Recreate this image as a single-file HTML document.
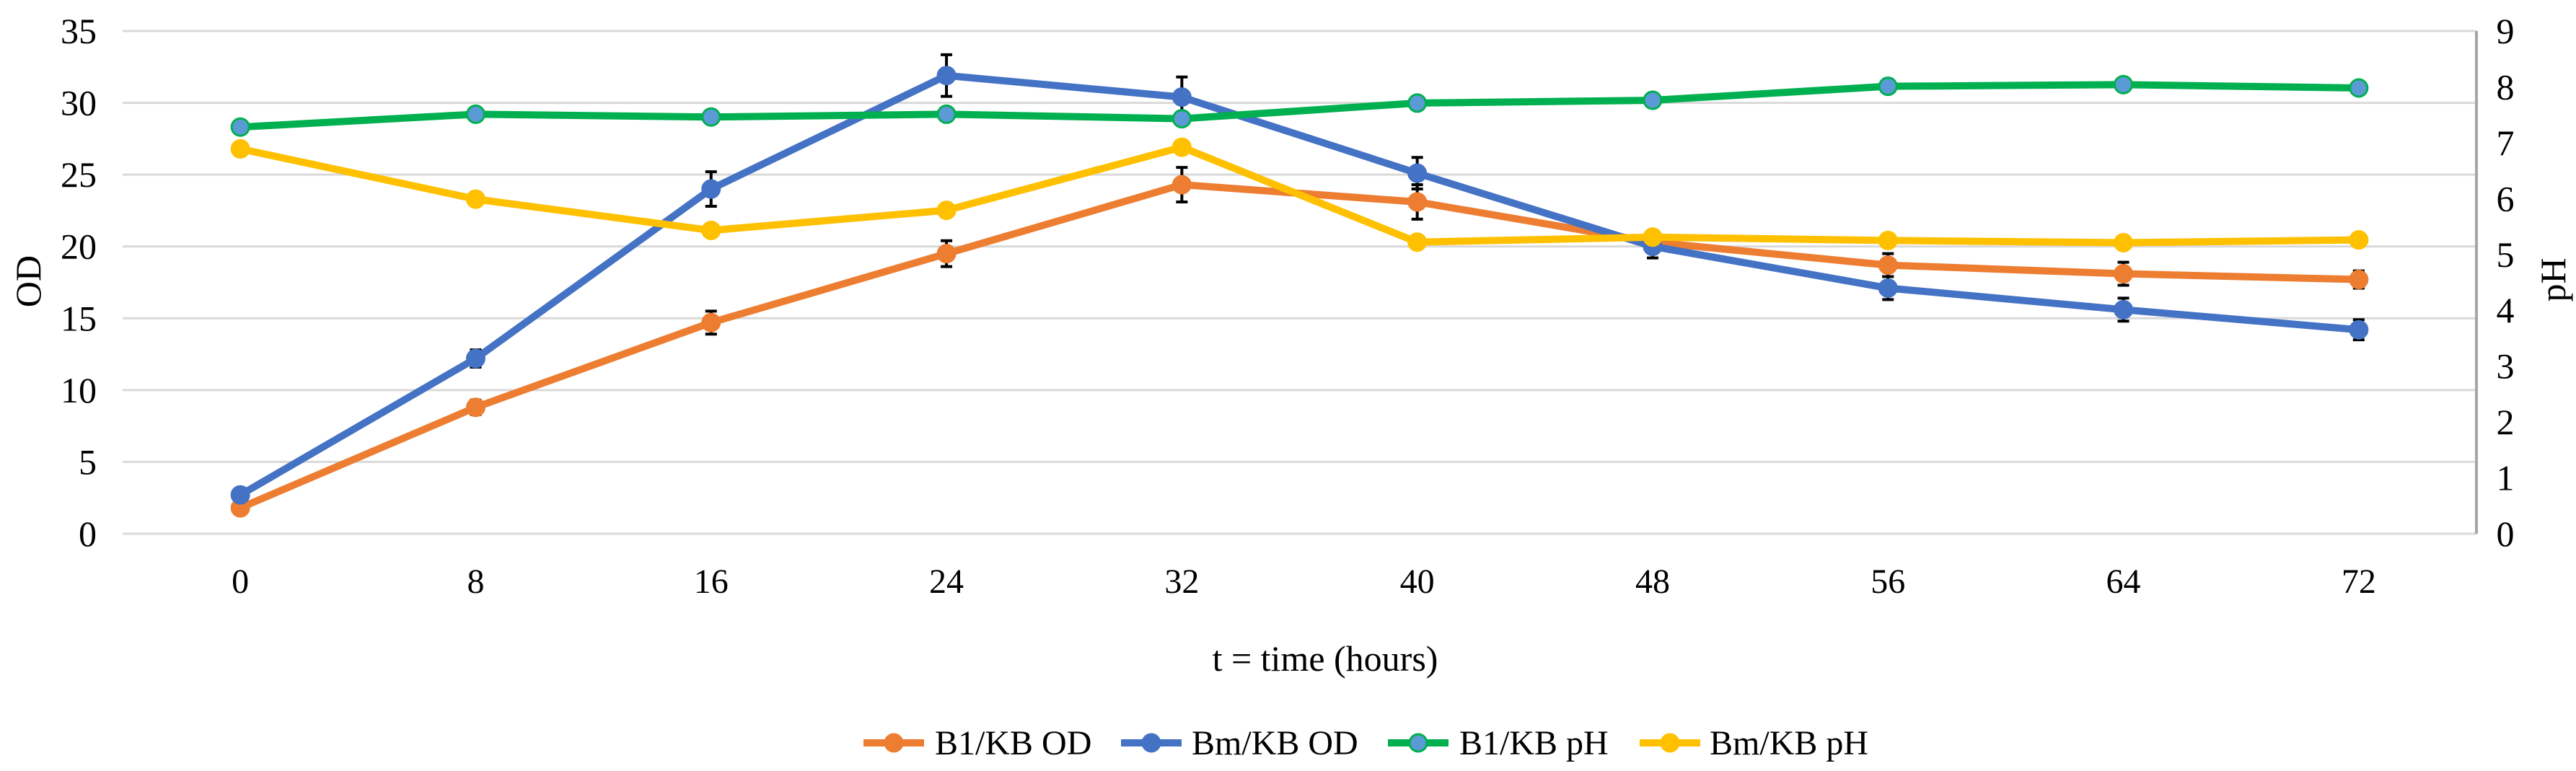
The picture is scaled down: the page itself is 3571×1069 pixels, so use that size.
<!DOCTYPE html>
<html><head><meta charset="utf-8"><style>
html,body{margin:0;padding:0;background:#fff;}
svg{display:block;font-family:"Liberation Serif",serif;}
</style></head><body>
<svg id="chart" width="3571" height="1069" viewBox="0 0 3571 1069" xmlns="http://www.w3.org/2000/svg"></svg>
<script>
const categories = [0, 8, 16, 24, 32, 40, 48, 56, 64, 72];
const b1OD = [1.8, 8.8, 14.7, 19.5, 24.3, 23.1, 20.3, 18.7, 18.1, 17.7];
const b1ODErr = [0.3, 0.5, 0.8, 0.9, 1.2, 1.2, 0.5, 0.8, 0.8, 0.6];
const bmOD = [2.7, 12.2, 24.0, 31.9, 30.4, 25.1, 20.0, 17.1, 15.6, 14.2];
const bmODErr = [0.3, 0.6, 1.2, 1.45, 1.4, 1.1, 0.8, 0.8, 0.8, 0.7];
const b1PH = [7.28, 7.51, 7.46, 7.51, 7.43, 7.71, 7.76, 8.01, 8.04, 7.98];
const b1PHErr = [0.1, 0.05, 0.03, 0.05, 0.1, 0.05, 0.03, 0.03, 0.03, 0.03];
const bmPH = [6.89, 5.99, 5.43, 5.79, 6.92, 5.22, 5.31, 5.25, 5.21, 5.26];
const bmPHErr = [0.1, 0.05, 0.05, 0.05, 0.1, 0.05, 0.05, 0.05, 0.05, 0.05];
const odTicks = [0, 5, 10, 15, 20, 25, 30, 35];
const phTicks = [0, 1, 2, 3, 4, 5, 6, 7, 8, 9];

const NS = "http://www.w3.org/2000/svg";
const svg = document.getElementById("chart");
const L = 170, R = 3433, T = 43, B = 740;
const band = (R - L) / categories.length;
function xPos(i){ return L + band * (i + 0.5); }
function yOD(v){ return B - (v / 35) * (B - T); }
function yPH(v){ return B - (v / 9) * (B - T); }
function mk(tag, attrs, parent){
  const e = document.createElementNS(NS, tag);
  for (const k in attrs) e.setAttribute(k, attrs[k]);
  (parent || svg).appendChild(e);
  return e;
}

odTicks.forEach(function(t){
  const g = mk("line", {x1:L, x2:R, y1:yOD(t), y2:yOD(t), stroke:"#d9d9d9", "stroke-width":3});
  
  
  const lb = mk("text", {x:134, y:yOD(t)+17, "text-anchor":"end", "font-size":50, fill:"#000"});
  lb.textContent = t;
  
  
});
phTicks.forEach(function(t){
  const lb = mk("text", {x:3473, y:yPH(t)+17, "text-anchor":"middle", "font-size":50, fill:"#000"});
  lb.textContent = t;
  
  
});
const ax = mk("line", {x1:R, x2:R, y1:T, y2:B, stroke:"#a6a6a6", "stroke-width":4});



categories.forEach(function(c, i){
  const lb = mk("text", {x:xPos(i), y:822, "text-anchor":"middle", "font-size":48, fill:"#000"});
  lb.textContent = c;
  
  
});

let t1 = mk("text", {x:0, y:0, "text-anchor":"middle", "font-size":50, fill:"#000", transform:"translate(56,390) rotate(-90)"});
t1.textContent = "OD";


let t2 = mk("text", {x:0, y:0, "text-anchor":"middle", "font-size":50, fill:"#000", transform:"translate(3556,388) rotate(-90)"});
t2.textContent = "pH";


let t3 = mk("text", {x:1837, y:930, "text-anchor":"middle", "font-size":50, fill:"#000"});
t3.textContent = "t = time (hours)";



const series = [
  {name:"b1-kb-od", vals:b1OD, err:b1ODErr, y:yOD, color:"#ED7D31", fill:"#ED7D31"},
  {name:"bm-kb-od", vals:bmOD, err:bmODErr, y:yOD, color:"#4472C4", fill:"#4472C4"},
  {name:"b1-kb-ph", vals:b1PH, err:b1PHErr, y:yPH, color:"#00B050", fill:"#5B9BD5"},
  {name:"bm-kb-ph", vals:bmPH, err:bmPHErr, y:yPH, color:"#FFC000", fill:"#FFC000"}
];
series.forEach(function(s){
  const g = mk("g", {});
  
  
  const pts = s.vals.map(function(v, i){ return xPos(i) + "," + s.y(v); }).join(" ");
  const pl = mk("polyline", {points:pts, fill:"none", stroke:s.color, "stroke-width":10, "stroke-linejoin":"round"}, g);
  
  
  s.vals.forEach(function(v, i){
    const x = xPos(i), y1 = s.y(v + s.err[i]), y2 = s.y(v - s.err[i]);
    const eb = mk("path", {d:"M"+x+","+y1+"V"+y2+"M"+(x-8)+","+y1+"H"+(x+8)+"M"+(x-8)+","+y2+"H"+(x+8), stroke:"#000", "stroke-width":4, fill:"none"}, g);
    
    
    const c = mk("ellipse", {cx:x, cy:s.y(v), rx:12, ry:12, fill:s.fill, stroke:s.color, "stroke-width":3}, g);
    
    
  });
});

const legend = [
  {label:"B1/KB OD", color:"#ED7D31", fill:"#ED7D31", mx:1239, tx:1296},
  {label:"Bm/KB OD", color:"#4472C4", fill:"#4472C4", mx:1596, tx:1652},
  {label:"B1/KB pH", color:"#00B050", fill:"#5B9BD5", mx:1966, tx:2023},
  {label:"Bm/KB pH", color:"#FFC000", fill:"#FFC000", mx:2315, tx:2370}
];
legend.forEach(function(l){
  const g = mk("g", {});
  
  
  mk("line", {x1:l.mx-42, x2:l.mx+42, y1:1030, y2:1030, stroke:l.color, "stroke-width":10}, g);
  mk("ellipse", {cx:l.mx, cy:1030, rx:12, ry:12, fill:l.fill, stroke:l.color, "stroke-width":3}, g);
  const t = mk("text", {x:l.tx, y:1046, "font-size":48, fill:"#000"}, g);
  t.textContent = l.label;
});
</script>
</body></html>
